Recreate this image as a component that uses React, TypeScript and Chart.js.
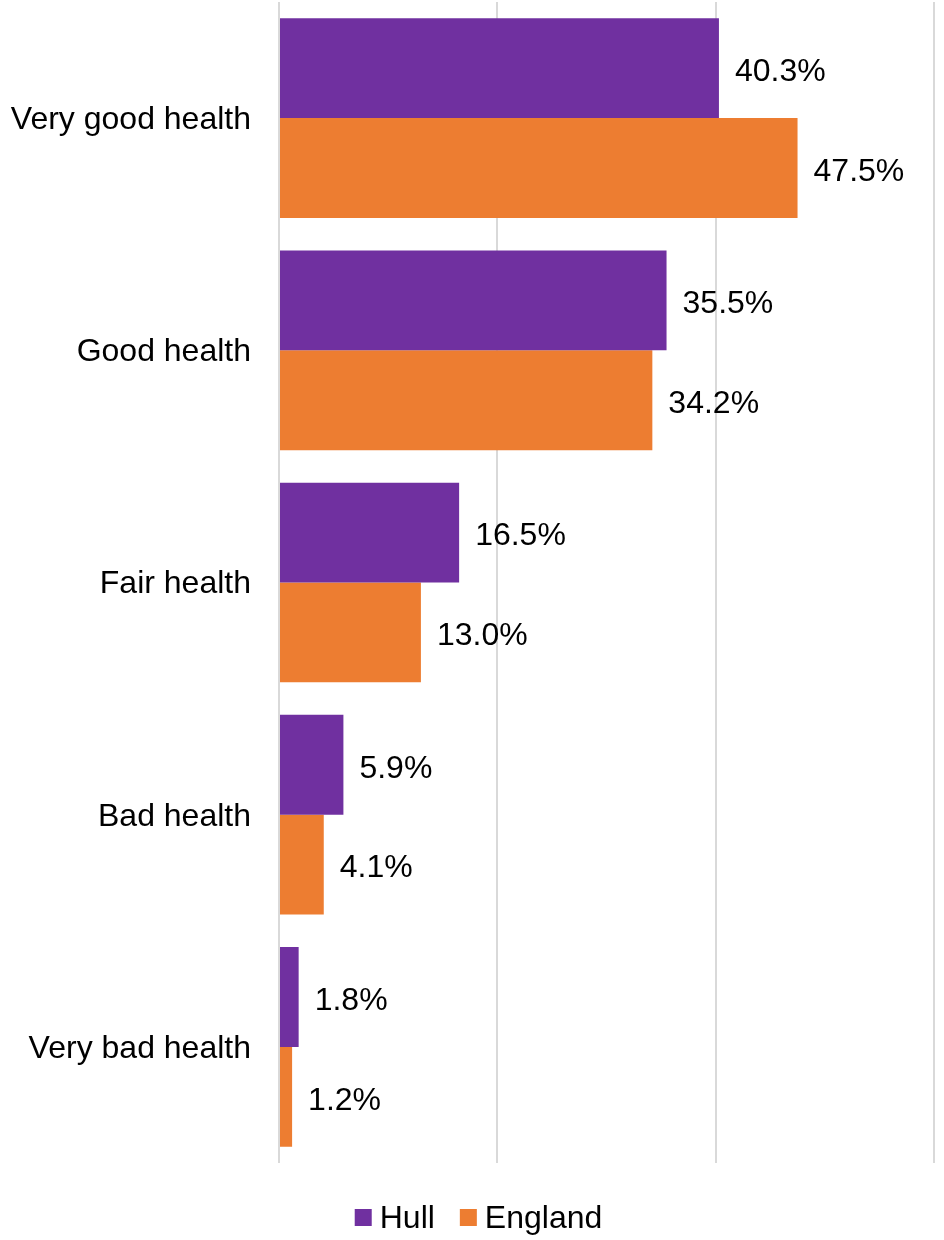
import React, { useEffect, useRef } from "react";
import { Chart, registerables } from "chart.js";

Chart.register(...registerables);

const categories = ["Very good health", "Good health", "Fair health", "Bad health", "Very bad health"];
const hullValues = [40.3, 35.5, 16.5, 5.9, 1.8];
const englandValues = [47.5, 34.2, 13.0, 4.1, 1.2];
const seriesNames = ["Hull", "England"];

const FONT = "'Liberation Sans', Arial, sans-serif";

const dataLabelPlugin = {
  id: "dataLabels",
  afterDatasetsDraw(chart: any) {
    const ctx = chart.ctx;
    ctx.save();
    ctx.font = `32px ${FONT}`;
    ctx.fillStyle = "#000000";
    ctx.textAlign = "left";
    ctx.textBaseline = "middle";
    chart.data.datasets.forEach((ds: any, di: number) => {
      const meta = chart.getDatasetMeta(di);
      meta.data.forEach((bar: any, i: number) => {
        const v = ds.data[i] as number;
        ctx.fillText(v.toFixed(1) + "%", bar.x + 16, bar.y + 4);
      });
    });
    ctx.restore();
  },
};

const customLegendPlugin = {
  id: "customLegend",
  afterDraw(chart: any) {
    const ctx = chart.ctx;
    ctx.save();
    ctx.font = `32px ${FONT}`;
    ctx.textBaseline = "middle";
    ctx.textAlign = "left";
    const box = 17;
    const gapText = 8;
    const gapItem = 25;
    const items = chart.data.datasets.map((ds: any) => ({
      text: ds.label as string,
      color: ds.backgroundColor as string,
      w: ctx.measureText(ds.label).width,
    }));
    const total = items.reduce((s: number, it: any, i: number) => s + box + gapText + it.w + (i > 0 ? gapItem : 0), 0);
    let x = chart.width / 2 + 6.5 - total / 2;
    const cy = 1217.5;
    items.forEach((it: any) => {
      ctx.fillStyle = it.color;
      ctx.fillRect(x, cy - box / 2, box, box);
      ctx.fillStyle = "#000000";
      ctx.fillText(it.text, x + box + gapText, cy + 2);
      x += box + gapText + it.w + gapItem;
    });
    ctx.restore();
  },
};

export default function App() {
  const ref = useRef<HTMLCanvasElement>(null);
  useEffect(() => {
    if (!ref.current) return;
    const chart = new Chart(ref.current, {
      type: "bar",
      data: {
        labels: categories,
        datasets: [
          { label: seriesNames[0], data: hullValues, backgroundColor: "#7030A0", borderWidth: 0 },
          { label: seriesNames[1], data: englandValues, backgroundColor: "#ED7D31", borderWidth: 0 },
        ],
      },
      options: {
        indexAxis: "y",
        animation: false,
        responsive: false,
        maintainAspectRatio: false,
        layout: { padding: { left: 0, right: 10, top: 2, bottom: 77 } },
        datasets: { bar: { categoryPercentage: 0.86, barPercentage: 1 } },
        scales: {
          x: {
            min: 0,
            max: 60,
            ticks: { display: false, stepSize: 20 },
            grid: { color: "#d9d9d9", lineWidth: 2, drawTicks: false },
            border: { display: false },
            afterFit(scale: any) {
              scale.height = 0;
              scale.paddingLeft = 0;
              scale.paddingRight = 0;
            },
          },
          y: {
            ticks: { color: "#000000", font: { family: FONT, size: 32 }, padding: 28, labelOffset: 2 },
            grid: { display: false, drawTicks: false },
            border: { display: false },
            afterFit(scale: any) {
              scale.width = 279;
              scale.paddingTop = 0;
              scale.paddingBottom = 0;
            },
          },
        },
        plugins: {
          legend: { display: false },
          tooltip: { enabled: false },
        },
      },
      plugins: [dataLabelPlugin, customLegendPlugin],
    });
    return () => chart.destroy();
  }, []);
  return (
    <div style={{ position: "absolute", left: 0, top: 0, width: 944, height: 1240 }}>
      <canvas ref={ref} width={944} height={1240} style={{ width: 944, height: 1240 }} />
    </div>
  );
}
